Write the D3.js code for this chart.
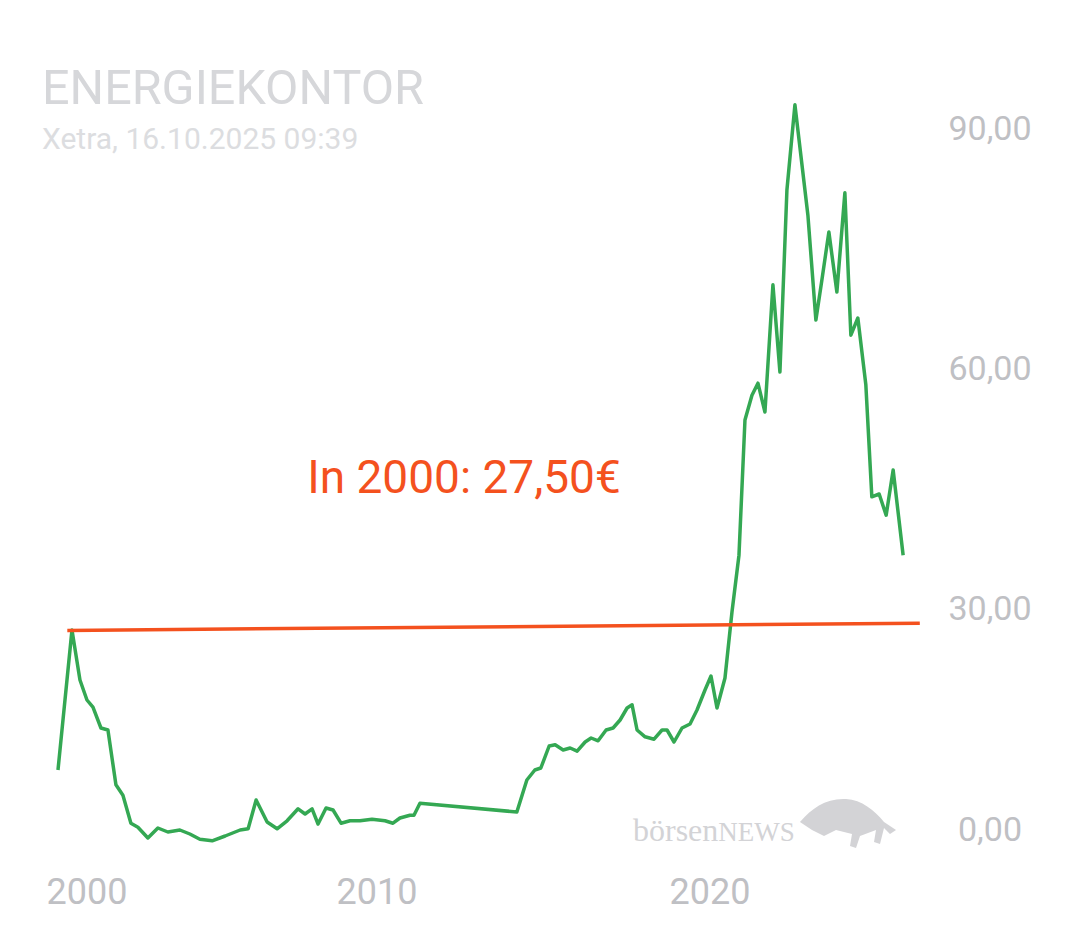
<!DOCTYPE html>
<html>
<head>
<meta charset="utf-8">
<script src="https://cdn.jsdelivr.net/npm/d3@7"></script>
<style>
  body { margin: 0; background: #fff; }
  svg { display: block; font-family: Roboto, "Noto Sans", sans-serif; }
</style>
</head>
<body>
<svg id="chart" width="1080" height="945"></svg>
<script>
const width = 1080;
const height = 945;

// decimal years and prices (EUR)
const years = [2000.42, 2000.84, 2001.08, 2001.29, 2001.47, 2001.71, 2001.92, 2002.16, 2002.37, 2002.61,
  2002.82, 2003.12, 2003.42, 2003.72, 2004.08, 2004.38, 2004.68, 2005.05, 2005.44, 2005.89,
  2006.13, 2006.37, 2006.70, 2007.00, 2007.30, 2007.63, 2007.84, 2008.05, 2008.23, 2008.47,
  2008.68, 2008.92, 2009.19, 2009.49, 2009.85, 2010.24, 2010.48, 2010.69, 2010.99, 2011.11,
  2011.29, 2014.20, 2014.50, 2014.74, 2014.92, 2015.17, 2015.35, 2015.59, 2015.80, 2016.01,
  2016.25, 2016.43, 2016.64, 2016.88, 2017.09, 2017.30, 2017.51, 2017.66, 2017.81, 2018.05,
  2018.32, 2018.56, 2018.71, 2018.92, 2019.16, 2019.40, 2019.61, 2019.85, 2020.03, 2020.21,
  2020.45, 2020.66, 2020.87, 2021.05, 2021.26, 2021.44, 2021.65, 2021.89, 2022.10, 2022.31,
  2022.55, 2022.94, 2023.18, 2023.36, 2023.57, 2023.81, 2024.05, 2024.23, 2024.44, 2024.68,
  2024.86, 2025.08, 2025.29, 2025.50, 2025.80];
const prices = [9.75, 27.25, 21, 18.5, 17.6, 15, 14.75, 7.9, 6.6, 3.1,
  2.6, 1.25, 2.5, 2, 2.25, 1.75, 1.1, 0.9, 1.5, 2.25,
  2.4, 6, 3.25, 2.4, 3.4, 4.9, 4.25, 4.9, 3, 5,
  4.75, 3.1, 3.4, 3.4, 3.6, 3.4, 3.1, 3.75, 4.1, 4.1,
  5.6, 4.5, 8.5, 9.75, 10, 12.75, 12.9, 12.25, 12.5, 12.1,
  13.25, 13.75, 13.4, 14.75, 15, 16, 17.5, 17.9, 14.75, 13.9,
  13.6, 14.75, 14.75, 13.25, 15, 15.5, 17.25, 19.75, 21.5, 17.5,
  21.25, 29.5, 36.6, 53.5, 56.6, 58.1, 54.5, 70.4, 59.5, 82.25,
  92.9, 79.1, 66, 71, 77, 69.5, 81.9, 64.1, 66.25, 57.9,
  43.9, 44.25, 41.6, 47.25, 36.6];

const refYears = [2000.7, 2026.3];
const refValues = [27.2, 28.1];

const yTicks = [0, 30, 60, 90];
const xTicks = [2000, 2010, 2020];

const svg = d3.select("#chart");

const x = d3.scaleLinear().domain([2000, 2010]).range([44, 377]);
const y = d3.scaleLinear().domain([0, 90]).range([848, 128]);
const fmt = v => d3.format(".2f")(v).replace(".", ",");

// title
svg.append("text").attr("x", 42).attr("y", 104)
  .attr("font-size", 48.5).attr("fill", "#d6d7da").text("ENERGIEKONTOR");
svg.append("text").attr("x", 42).attr("y", 149)
  .attr("font-size", 30).attr("fill", "#dcdde0").text("Xetra, 16.10.2025 09:39");

// y labels
svg.selectAll(".ylab").data(yTicks).enter().append("text")
  .attr("x", 990)
  .attr("y", d => d === 0 ? y(d) - 7 : y(d) + 12)
  .attr("text-anchor", "middle")
  .attr("font-size", 34).attr("fill", "#bfc0c4")
  .text(fmt);

// x labels
svg.selectAll(".xlab").data(xTicks).enter().append("text")
  .attr("x", d => d === 2000 ? 87 : x(d))
  .attr("y", 904)
  .attr("text-anchor", "middle")
  .attr("font-size", 36).attr("fill", "#bfc0c4")
  .text(d => d);

// watermark
const wm = svg.append("g").attr("fill", "#d3d3d6");
wm.append("text").attr("x", 633).attr("y", 841)
  .attr("font-family", "Liberation Serif, DejaVu Serif, serif")
  .attr("font-size", 32).text("börsen")
  .append("tspan").attr("font-size", 27).text("NEWS");
wm.append("path")
  .attr("d", "M800,822 C812,808 826,798 846,799 C862,800 874,810 884,822 L896,830 L890,834 L884,828 L880,844 L874,842 L876,830 L860,836 L856,848 L850,846 L852,834 L836,830 L824,836 L812,830 Z");

// price line
const line = d3.line().x((d, i) => x(years[i])).y(d => y(d));
svg.append("path").datum(prices)
  .attr("d", line)
  .attr("fill", "none").attr("stroke", "#34a853")
  .attr("stroke-width", 3.5).attr("stroke-linejoin", "round");

// reference line
svg.append("path").datum(refValues)
  .attr("d", d3.line().x((d, i) => x(refYears[i])).y(d => y(d)))
  .attr("stroke", "#f4511e").attr("stroke-width", 3.5);

svg.append("text").attr("x", 464).attr("y", 493)
  .attr("text-anchor", "middle")
  .attr("font-size", 46).attr("fill", "#f4511e")
  .text("In 2000: 27,50€");
</script>
</body>
</html>
